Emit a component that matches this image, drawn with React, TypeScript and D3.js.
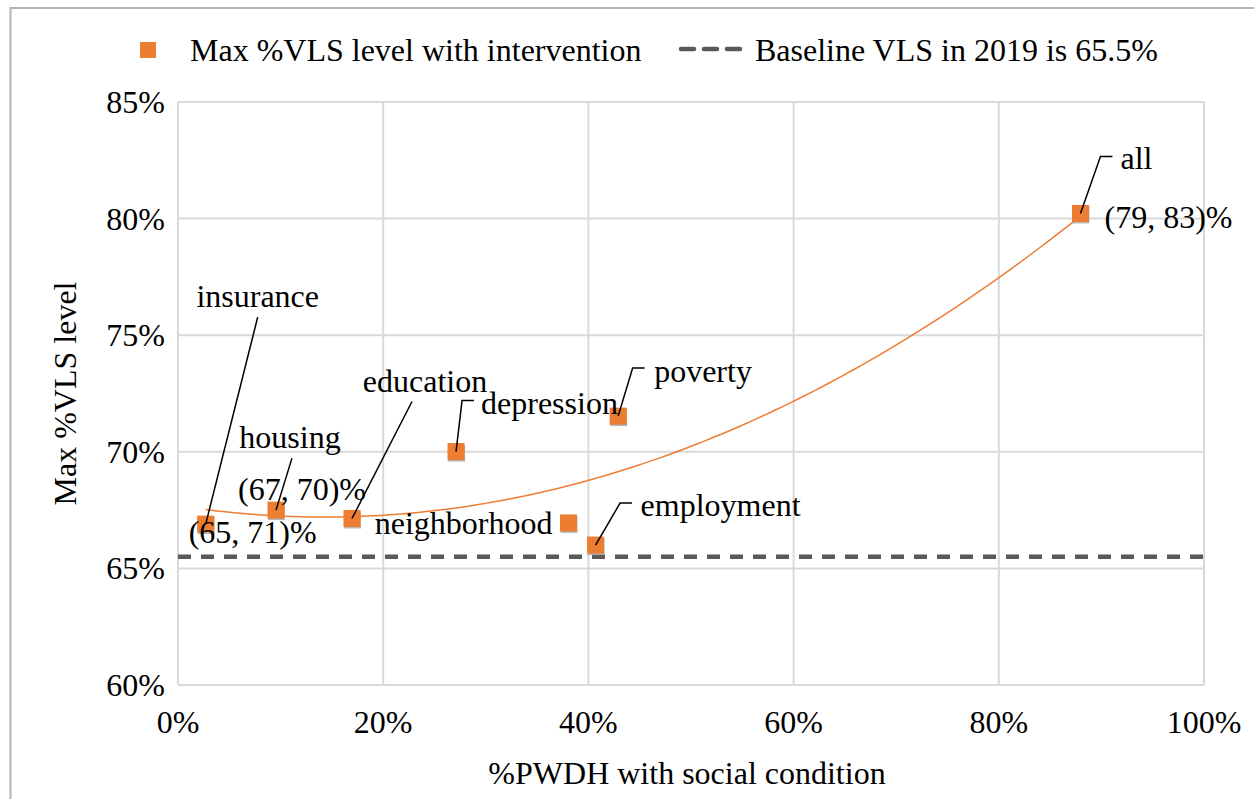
import { useEffect } from "react";
import * as d3 from "d3";

// data
const conditions = ["insurance", "housing", "education", "depression", "neighborhood", "employment", "poverty", "all"];
const pctWithCondition = [2.7, 9.55, 16.96, 27.1, 38.06, 40.7, 42.9, 87.96];
const maxVls = [66.9, 67.5, 67.14, 70.01, 66.95, 66.0, 71.53, 80.22];
const rangeLabels = ["(65, 71)%", "(67, 70)%", "", "", "", "", "", "(79, 83)%"];
const baselineVls = 65.5;
const xTicks = [0, 20, 40, 60, 80, 100];
const yTicks = [60, 65, 70, 75, 80, 85];

// label placement relative to the marker: [dx, dy, anchor, leader, lx, ly]
// leader: "line" = straight from (lx, ly), "elbow" = short flat tick then to marker, "none"
const labelLayout: [number, number, string, string, number, number][] = [
  [52, -228, "middle", "line", 52, -207],
  [14, -73, "middle", "line", 16, -52],
  [73, -137, "middle", "line", 60, -117],
  [25, -49, "start", "elbow", 6, -51],
  [-16, 0, "end", "none", 0, 0],
  [45, -40, "start", "elbow", 24.5, -42],
  [36, -45, "start", "elbow", 14.5, -48],
  [40, -55, "start", "elbow", 20, -57],
];
const rangeLayout: [number, number, string][] = [
  [47, 8, "middle"],
  [26, -21, "middle"],
  [0, 0, "middle"],
  [0, 0, "middle"],
  [0, 0, "middle"],
  [0, 0, "middle"],
  [0, 0, "middle"],
  [24, 4, "start"],
];

const W = 1254;
const H = 799;
const FONT = '"Liberation Serif", "DejaVu Serif", "Times New Roman", Times, serif';
const FS = 32;
const ORANGE = "#ED7D31";

// least-squares quadratic, like the spreadsheet's polynomial trendline
function quadFit(xs: number[], ys: number[]) {
  const s = [0, 0, 0, 0, 0];
  const t = [0, 0, 0];
  xs.forEach((x, i) => {
    for (let k = 0; k < 5; k++) s[k] += Math.pow(x, k);
    for (let k = 0; k < 3; k++) t[k] += Math.pow(x, k) * ys[i];
  });
  const m = [
    [s[0], s[1], s[2], t[0]],
    [s[1], s[2], s[3], t[1]],
    [s[2], s[3], s[4], t[2]],
  ];
  for (let c = 0; c < 3; c++) {
    for (let r = c + 1; r < 3; r++) {
      const f = m[r][c] / m[c][c];
      for (let k = c; k < 4; k++) m[r][k] -= f * m[c][k];
    }
  }
  const b = [0, 0, 0];
  for (let r = 2; r >= 0; r--) {
    let v = m[r][3];
    for (let k = r + 1; k < 3; k++) v -= m[r][k] * b[k];
    b[r] = v / m[r][r];
  }
  return (x: number) => b[0] + b[1] * x + b[2] * x * x;
}

export default function App() {
  useEffect(() => {
    document.body.style.margin = "0";
  }, []);

  const margin = { left: 178, right: 50, top: 102, bottom: 114 };
  const x = d3.scaleLinear().domain([0, 100]).range([margin.left, W - margin.right]);
  const y = d3.scaleLinear().domain([60, 85]).range([H - margin.bottom, margin.top]);

  const fit = quadFit(pctWithCondition, maxVls);
  const [xMin, xMax] = d3.extent(pctWithCondition) as [number, number];
  const trendPts = d3.range(0, 101).map((i) => xMin + ((xMax - xMin) * i) / 100);
  const trend = d3
    .line<number>()
    .x((d) => x(d))
    .y((d) => y(fit(d)))(trendPts);

  const pts = conditions.map((c, i) => ({
    name: c,
    px: x(pctWithCondition[i]),
    py: y(maxVls[i]),
    range: rangeLabels[i],
    lay: labelLayout[i],
    rlay: rangeLayout[i],
  }));

  const txt = { fontSize: FS, fontFamily: FONT } as const;

  return (
    <svg width={W} height={H} style={{ display: "block", background: "#fff", fontFamily: FONT }}>
      {/* chart frame */}
      <rect x={10.5} y={8} width={W + 10} height={H + 10} fill="none" stroke="#b3b3b3" strokeWidth={2} />

      {/* legend */}
      <rect x={140} y={42} width={16} height={16} fill={ORANGE} />
      <text x={190} y={50} style={txt} dominantBaseline="central">
        Max %VLS level with intervention
      </text>
      <line x1={681} x2={750} y1={49} y2={49} stroke="#595959" strokeWidth={4.5} strokeDasharray="13 10" strokeLinecap="round" />
      <text x={755} y={50} style={txt} dominantBaseline="central">
        Baseline VLS in 2019 is 65.5%
      </text>

      {/* grid */}
      {xTicks.map((t) => (
        <line key={"gx" + t} x1={x(t)} x2={x(t)} y1={y(60)} y2={y(85)} stroke="#d9d9d9" strokeWidth={2} />
      ))}
      {yTicks.map((t) => (
        <line key={"gy" + t} x1={x(0)} x2={x(100)} y1={y(t)} y2={y(t)} stroke="#d9d9d9" strokeWidth={2} />
      ))}

      {/* tick labels */}
      {xTicks.map((t) => (
        <text key={"tx" + t} x={x(t)} y={722} style={txt} textAnchor="middle" dominantBaseline="central">
          {t}%
        </text>
      ))}
      {yTicks.map((t) => (
        <text key={"ty" + t} x={165} y={y(t)} style={txt} textAnchor="end" dominantBaseline="central">
          {t}%
        </text>
      ))}

      {/* axis titles */}
      <text x={687} y={773} style={txt} textAnchor="middle" dominantBaseline="central">
        %PWDH with social condition
      </text>
      <text
        transform={`translate(65,${(y(60) + y(85)) / 2}) rotate(-90)`}
        style={txt}
        textAnchor="middle"
        dominantBaseline="central"
      >
        Max %VLS level
      </text>

      {/* baseline */}
      <line
        x1={x(0)}
        x2={x(100)}
        y1={y(baselineVls)}
        y2={y(baselineVls)}
        stroke="#595959"
        strokeWidth={4.5}
        strokeDasharray="13 10"
      />

      {/* trendline */}
      <path d={trend ?? ""} fill="none" stroke={ORANGE} strokeWidth={1.5} />

      {/* markers */}
      {pts.map((p) => (
        <g key={"m" + p.name}>
          <rect x={p.px - 8} y={p.py - 7} width={17} height={17} fill="#a6a6a6" opacity={0.8} />
          <rect x={p.px - 8.5} y={p.py - 8.5} width={17} height={17} fill={ORANGE} />
        </g>
      ))}

      {/* leaders */}
      {pts.map((p) => {
        const [, , , kind, lx, ly] = p.lay;
        if (kind === "none") return null;
        if (kind === "line")
          return <line key={"l" + p.name} x1={p.px + lx} y1={p.py + ly} x2={p.px} y2={p.py} stroke="#000" strokeWidth={1.5} />;
        return (
          <polyline
            key={"l" + p.name}
            points={`${p.px + lx + 12},${p.py + ly} ${p.px + lx},${p.py + ly} ${p.px},${p.py}`}
            fill="none"
            stroke="#000"
            strokeWidth={1.5}
          />
        );
      })}

      {/* labels */}
      {pts.map((p) => (
        <text
          key={"t" + p.name}
          x={p.px + p.lay[0]}
          y={p.py + p.lay[1]}
          style={txt}
          textAnchor={p.lay[2]}
          dominantBaseline="central"
        >
          {p.name}
        </text>
      ))}
      {pts
        .filter((p) => p.range)
        .map((p) => (
          <text
            key={"r" + p.name}
            x={p.px + p.rlay[0]}
            y={p.py + p.rlay[1]}
            style={txt}
            textAnchor={p.rlay[2]}
            dominantBaseline="central"
          >
            {p.range}
          </text>
        ))}
    </svg>
  );
}
